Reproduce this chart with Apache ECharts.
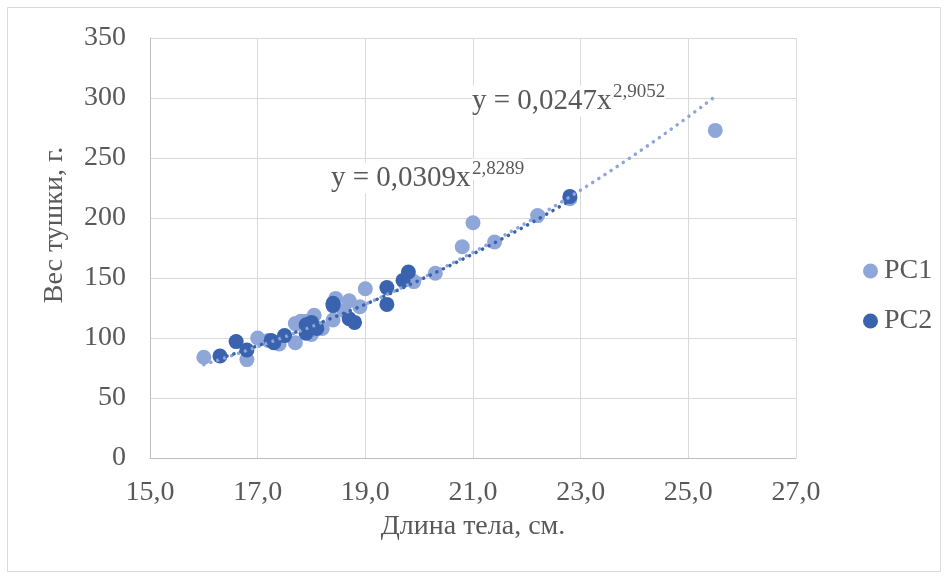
<!DOCTYPE html>
<html>
<head>
<meta charset="utf-8">
<script src="https://cdn.jsdelivr.net/npm/echarts@6/dist/echarts.min.js"></script>
<style>
  html, body { margin: 0; padding: 0; background: #fff; }
  #chart { width: 948px; height: 579px; }
</style>
</head>
<body>
<div id="chart"></div>
<script>
// values: [length, weight]
const pc1Points = [
  [16.0, 84], [16.8, 82], [17.0, 100], [17.2, 98], [17.4, 95], [17.7, 96],
  [17.7, 112], [17.8, 114], [17.9, 114], [18.0, 103], [18.05, 119], [18.2, 108],
  [18.4, 115], [18.45, 133], [18.6, 123], [18.7, 131], [18.9, 126], [19.0, 141],
  [19.9, 147], [20.3, 154], [20.8, 176], [21.0, 196], [21.4, 180], [22.2, 202],
  [22.8, 216], [25.5, 273]
]
const pc2Points = [
  [16.3, 85], [16.6, 97], [16.8, 90], [17.25, 98], [17.3, 96], [17.5, 102],
  [17.9, 111], [17.9, 104], [18.0, 113], [18.1, 108], [18.4, 129], [18.4, 127],
  [18.7, 116], [18.8, 113], [19.4, 142], [19.4, 128], [19.7, 148], [19.8, 155],
  [22.8, 218]
]

// power trendlines as printed on the chart: y = a * x^b
const pc1Trend = { a: 0.0247, b: 2.9052, from: 16.0, to: 25.5 }
const pc2Trend = { a: 0.0309, b: 2.8289, from: 16.3, to: 22.8 }

const xTicks = { min: 15, max: 27, interval: 2 }
const yTicks = { min: 0, max: 350, interval: 50 }

const lightBlue = '#8ea6d8'
const darkBlue = '#3a63af'
const textGray = '#595959'
const font = 'Liberation Serif, Times New Roman, serif'

const trendPoints = (t) => {
  const pts = []
  const steps = 60
  for (let i = 0; i <= steps; i++) {
    const x = t.from + (t.to - t.from) * i / steps
    pts.push([x, t.a * Math.pow(x, t.b)])
  }
  return pts
}

const chart = echarts.init(document.getElementById('chart'))

const gridLine = { show: true, lineStyle: { color: '#d9d9d9', width: 1 } }
const dots = (color) => ({ color: color, width: 3.5, type: [0.1, 7.2], cap: 'round' })

const eqText = (text, x, y, size) => ({
  type: 'text', x: x, y: y, z: 10,
  style: {
    text: text, fill: textGray, font: size + 'px ' + font,
    align: 'left', verticalAlign: 'middle',
    backgroundColor: '#fff', padding: [1, 0, 1, 0]
  }
})

const option = {
  animation: false,
  backgroundColor: '#fff',
  textStyle: { fontFamily: font },
  grid: { left: 150, right: 152, top: 38, bottom: 121 },
  xAxis: {
    type: 'value',
    min: xTicks.min, max: xTicks.max, interval: xTicks.interval,
    axisLine: { show: true, lineStyle: { color: '#bfbfbf' } },
    axisTick: { show: false },
    splitLine: gridLine,
    axisLabel: {
      color: textGray, fontSize: 28, fontFamily: font, margin: 21,
      formatter: (v) => v.toFixed(1).replace('.', ',')
    },
    name: 'Длина тела, см.',
    nameLocation: 'middle',
    nameGap: 55,
    nameTextStyle: { color: textGray, fontSize: 28, fontFamily: font }
  },
  yAxis: {
    type: 'value',
    min: yTicks.min, max: yTicks.max, interval: yTicks.interval,
    axisLine: { show: true, lineStyle: { color: '#bfbfbf' } },
    axisTick: { show: false },
    splitLine: gridLine,
    axisLabel: { color: textGray, fontSize: 28, fontFamily: font, margin: 24 }
  },
  legend: {
    orient: 'vertical',
    left: 858,
    top: 252,
    itemWidth: 15,
    itemHeight: 15,
    itemGap: 22,
    icon: 'circle',
    textStyle: { color: textGray, fontSize: 28, fontFamily: font, padding: [0, 0, 0, 1] },
    data: ['PC1', 'PC2']
  },
  graphic: [
    {
      type: 'rect',
      shape: { x: 7.5, y: 7.5, width: 933, height: 564 },
      style: { fill: 'none', stroke: '#d9d9d9', lineWidth: 1 },
      silent: true, z: -10
    },
    {
      type: 'text', x: 55, y: 225, rotation: Math.PI / 2,
      style: { text: 'Вес тушки, г.', fill: textGray, font: '28px ' + font, align: 'center', verticalAlign: 'middle' }
    },
    eqText('y = 0,0247x', 472, 101, 29),
    eqText('2,9052', 613, 92, 19),
    eqText('y = 0,0309x', 331, 178, 29),
    eqText('2,8289', 472, 169, 19)
  ],
  series: [
    {
      name: 'PC1', type: 'scatter', data: pc1Points,
      symbolSize: 15, itemStyle: { color: lightBlue, opacity: 1 }, z: 2
    },
    {
      name: 'PC2', type: 'scatter', data: pc2Points,
      symbolSize: 15, itemStyle: { color: darkBlue, opacity: 1 }, z: 3
    },
    {
      name: 'trend1', type: 'line', data: trendPoints(pc1Trend),
      showSymbol: false, smooth: false, lineStyle: dots(lightBlue), z: 4, silent: true
    },
    {
      name: 'trend2', type: 'line', data: trendPoints(pc2Trend),
      showSymbol: false, smooth: false, lineStyle: dots(darkBlue), z: 5, silent: true
    }
  ]
}

chart.setOption(option)
</script>
</body>
</html>
